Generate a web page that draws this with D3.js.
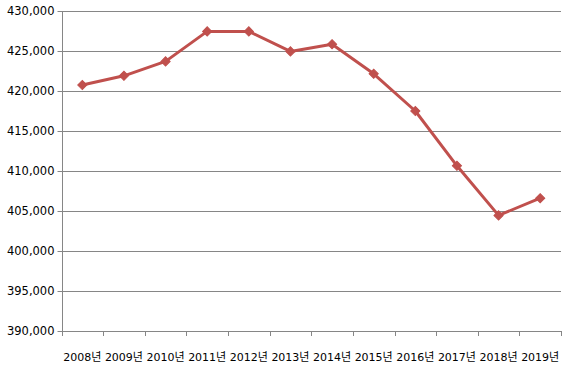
<!DOCTYPE html>
<html>
<head>
<meta charset="utf-8">
<script src="https://cdn.jsdelivr.net/npm/d3@7"></script>
<style>
html,body{margin:0;padding:0;background:#fff;}
svg text{font-family:"DejaVu Sans","Noto Sans CJK KR",sans-serif;fill:#000;}
</style>
</head>
<body>
<svg id="chart" width="576" height="370"></svg>
<script>
const categories = ["2008년","2009년","2010년","2011년","2012년","2013년","2014년","2015년","2016년","2017년","2018년","2019년"];
const values = [420750, 421900, 423700, 427450, 427450, 424950, 425850, 422150, 417500, 410650, 404450, 406600];
const yTicks = [390000, 395000, 400000, 405000, 410000, 415000, 420000, 425000, 430000];

(function () {
const svg = d3.select("#chart");
const mLeft = 61.5, mRight = 561, mTop = 11, mBottom = 331;

const x = d3.scaleBand().domain(categories).range([mLeft, mRight]);
const y = d3.scaleLinear().domain([390000, 430000]).range([mBottom, mTop]);
const fmt = d3.format(",");

// gridlines
svg.append("g").selectAll("line").data(yTicks).join("line")
  .attr("x1", mLeft - 4).attr("x2", mRight)
  .attr("y1", d => Math.round(y(d)) + 0.5).attr("y2", d => Math.round(y(d)) + 0.5)
  .attr("stroke", "#868686").attr("stroke-width", 1);

// y labels
svg.append("g").selectAll("text").data(yTicks).join("text")
  .attr("x", mLeft - 7).attr("y", d => y(d) + 4)
  .attr("text-anchor", "end").attr("font-size", "11.5px")
  .text(d => fmt(d));

// y axis line
svg.append("line").attr("x1", Math.round(mLeft) + 0.5).attr("x2", Math.round(mLeft) + 0.5)
  .attr("y1", mTop).attr("y2", mBottom)
  .attr("stroke", "#868686");

// x ticks
const xTickPos = categories.map(c => x(c)).concat([mRight]);
svg.append("g").selectAll("line").data(xTickPos).join("line")
  .attr("x1", d => Math.round(d) + 0.5).attr("x2", d => Math.round(d) + 0.5)
  .attr("y1", mBottom).attr("y2", mBottom + 5)
  .attr("stroke", "#868686");

// x labels
svg.append("g").selectAll("text").data(categories).join("text")
  .attr("x", d => x(d) + x.bandwidth() / 2).attr("y", 361)
  .attr("text-anchor", "middle").attr("font-size", "11px")
  .text(d => d);

const pts = categories.map((c, i) => [x(c) + x.bandwidth() / 2, y(values[i])]);

svg.append("path")
  .attr("d", d3.line()(pts))
  .attr("fill", "none").attr("stroke", "#C0504D").attr("stroke-width", 3)
  .attr("stroke-linejoin", "round");

svg.append("g").selectAll("path").data(pts).join("path")
  .attr("d", d3.symbol(d3.symbolSquare).size(42)())
  .attr("transform", d => `translate(${d[0]},${d[1]}) rotate(45)`)
  .attr("fill", "#C0504D").attr("stroke", "#C0504D").attr("stroke-width", 1);
})();
</script>
</body>
</html>
